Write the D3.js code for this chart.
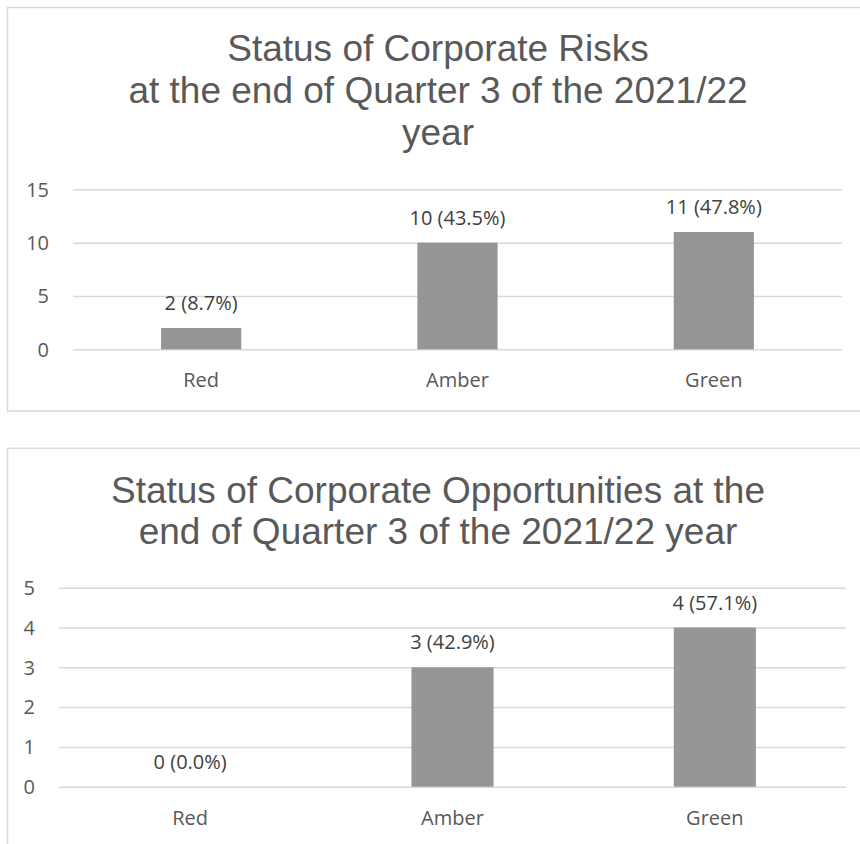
<!DOCTYPE html>
<html>
<head>
<meta charset="utf-8">
<script src="https://cdn.jsdelivr.net/npm/d3@7"></script>
<style>
  body { margin: 0; background: #fff; }
  .tick text { font-family: "Open Sans", sans-serif; font-size: 20px; fill: #595959; }
  .title { font-family: "Liberation Sans", Arial, sans-serif; font-size: 37px; fill: #595959; }
  .lbl { font-family: "Open Sans", sans-serif; font-size: 20px; fill: #404040; }
</style>
</head>
<body>
<script>
// data
const categories = ['Red', 'Amber', 'Green'];

const riskTitle = ['Status of Corporate Risks', 'at the end of Quarter 3 of the 2021/22', 'year'];
const riskCounts = [2, 10, 11];
const riskPct = ['8.7%', '43.5%', '47.8%'];
const riskTicks = [0, 5, 10, 15];

const oppTitle = ['Status of Corporate Opportunities at the', 'end of Quarter 3 of the 2021/22 year'];
const oppCounts = [0, 3, 4];
const oppPct = ['0.0%', '42.9%', '57.1%'];
const oppTicks = [0, 1, 2, 3, 4, 5];

let svg = d3.select('body')
    .append('svg')
    .attr('width', 860)
    .attr('height', 844);

let drawChart = (o) => {
    let g = svg.append('g');

    // chart area border
    g.append('rect')
        .attr('x', o.box[0]).attr('y', o.box[1])
        .attr('width', o.box[2]).attr('height', o.box[3])
        .attr('fill', 'none')
        .attr('stroke', '#d9d9d9')
        .attr('stroke-width', 1.5);

    g.append('text')
        .attr('class', 'title')
        .attr('text-anchor', 'middle')
        .selectAll('tspan')
        .data(o.title)
        .enter()
        .append('tspan')
        .attr('x', 438)
        .attr('y', (d, i) => o.titleY + i * o.titleGap)
        .text(d => d);

    let x = d3.scaleBand()
        .domain(categories)
        .range([o.left, o.right])
        .paddingInner(0.687)
        .paddingOuter(0.3435);

    let y = d3.scaleLinear()
        .domain([0, d3.max(o.ticks)])
        .range([o.bottom, o.top]);

    // gridlines + tick labels
    let yAxis = g.append('g')
        .attr('transform', `translate(${o.left},0)`)
        .call(d3.axisLeft(y).tickValues(o.ticks).tickFormat(d3.format('d'))
            .tickSize(-(o.right - o.left)).tickPadding(24));
    yAxis.select('.domain').remove();
    yAxis.selectAll('.tick line').attr('stroke', '#d9d9d9').attr('stroke-width', 1.5);
    yAxis.selectAll('.tick text').attr('dy', '0.34em');

    let xAxis = g.append('g')
        .attr('transform', `translate(0,${o.bottom})`)
        .call(d3.axisBottom(x).tickSize(0).tickPadding(24));
    xAxis.select('.domain').remove();

    let rows = categories.map((c, i) => ({ cat: c, v: o.counts[i], pct: o.pct[i] }));

    g.selectAll('rect.bar')
        .data(rows)
        .enter()
        .append('rect')
        .attr('class', 'bar')
        .attr('x', d => x(d.cat))
        .attr('width', x.bandwidth())
        .attr('y', d => y(d.v))
        .attr('height', d => y(0) - y(d.v))
        .attr('fill', '#969696');

    g.selectAll('text.lbl')
        .data(rows)
        .enter()
        .append('text')
        .attr('class', 'lbl')
        .attr('text-anchor', 'middle')
        .attr('x', d => x(d.cat) + x.bandwidth() / 2)
        .attr('y', d => y(d.v) - 18)
        .text(d => `${d.v} (${d.pct})`);
}

drawChart({
    box: [7.5, 7.5, 870, 403.5],
    title: riskTitle, titleY: 61, titleGap: 42,
    counts: riskCounts, pct: riskPct, ticks: riskTicks,
    left: 73, right: 842, top: 189.3, bottom: 349.3
});

drawChart({
    box: [7.5, 448.3, 870, 420],
    title: oppTitle, titleY: 503, titleGap: 41,
    counts: oppCounts, pct: oppPct, ticks: oppTicks,
    left: 59, right: 846, top: 587.7, bottom: 786.7
});
</script>
</body>
</html>
